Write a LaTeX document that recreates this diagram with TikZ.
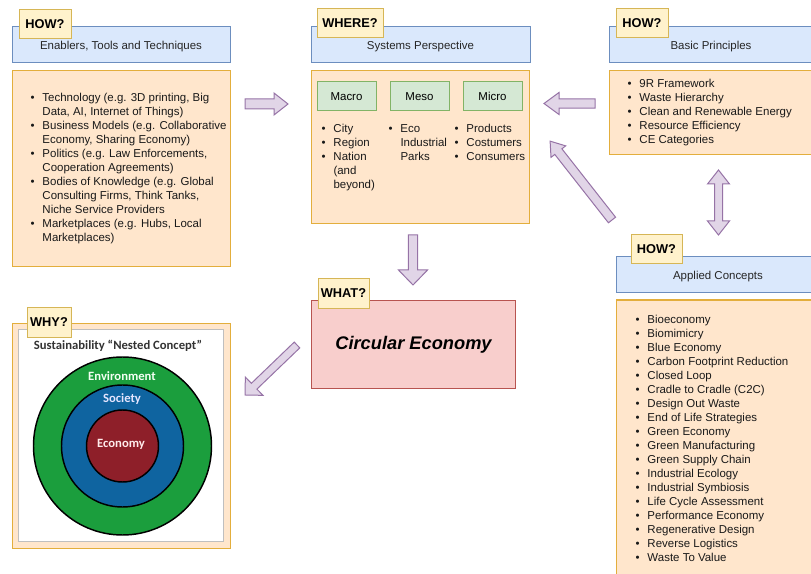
\documentclass[tikz,border=0pt]{standalone}
\usepackage{fontspec}
\setmainfont{Liberation Sans}
\newfontfamily\calib{Carlito}
\usetikzlibrary{calc}
\definecolor{orfill}{HTML}{FFE6CC}
\definecolor{ordraw}{HTML}{E3AE3C}
\definecolor{blfill}{HTML}{DAE8FC}
\definecolor{bldraw}{HTML}{6C8EBF}
\definecolor{tgfill}{HTML}{FFF2CC}
\definecolor{tgdraw}{HTML}{D6B656}
\definecolor{grfill}{HTML}{D5E8D4}
\definecolor{grdraw}{HTML}{82B366}
\definecolor{rdfill}{HTML}{F8CECC}
\definecolor{rddraw}{HTML}{B85450}
\definecolor{pufill}{HTML}{E1D5E7}
\definecolor{pudraw}{HTML}{9673A6}
\definecolor{envg}{HTML}{1B9E3D}
\definecolor{socb}{HTML}{0F64A0}
\definecolor{ecor}{HTML}{8E1F29}
\newlength\bw \setlength\bw{9pt}
\newcommand\bl[1]{\strut\makebox[\bw][l]{\textbullet}#1}
\newcommand\cl[1]{\strut\hspace*{\bw}#1}
\newcommand\blockarrow[5]{%
  \path let \p1=(#1), \p2=(#2), \n1={atan2(\y2-\y1,\x2-\x1)}, \n2={veclen(\x2-\x1,\y2-\y1)} in
    \pgfextra{\xdef\baang{\n1}\xdef\balen{\n2}};
  \begin{scope}[shift={(#1)}, rotate=\baang]
    \draw[parrow] (0pt,{-#3 pt}) -- ({\balen-#5 pt},{-#3 pt}) -- ({\balen-#5 pt},{-#4 pt})
      -- ({\balen},0pt) -- ({\balen-#5 pt},{#4 pt}) -- ({\balen-#5 pt},{#3 pt}) -- (0pt,{#3 pt}) -- cycle;
  \end{scope}}
\begin{document}
\begin{tikzpicture}[x=0.75pt,y=-0.75pt,line width=0.75pt,
  parrow/.style={fill=pufill,draw=pudraw,line join=miter},
  orbox/.style={fill=orfill,draw=ordraw,anchor=north west,inner sep=0pt,outer sep=0pt},
  hdr/.style={fill=blfill,draw=bldraw,anchor=north west,inner sep=0pt,outer sep=0pt,minimum height=27pt},
  hdrtxt/.style={font=\fontsize{8.6pt}{10.5pt}\selectfont,text=black!85,yshift=-1.5pt},
  tag/.style={fill=tgfill,draw=tgdraw,anchor=north west,inner sep=0pt,outer sep=0pt,minimum height=21.75pt,font=\fontsize{9.6pt}{11pt}\selectfont\bfseries},
  lvl/.style={fill=grfill,draw=grdraw,anchor=north west,inner sep=0pt,outer sep=0pt,minimum width=44.25pt,minimum height=21.75pt,font=\fontsize{8.6pt}{10.5pt}\selectfont},
  listtxt/.style={anchor=west,align=left,inner sep=0pt,font=\fontsize{8.6pt}{10.5pt}\selectfont,text=black!90},
  ring/.style={draw=black,line width=1.1pt}]
\useasboundingbox (0,0) rectangle (811,574);

% ---------- block arrows ----------
\coordinate (a1s) at (245,104); \coordinate (a1e) at (288,104);
\coordinate (a2s) at (595,103.5); \coordinate (a2e) at (544,103.5);
\coordinate (a3s) at (612,220); \coordinate (a3e) at (550,141);
\coordinate (a5s) at (413,235); \coordinate (a5e) at (413,285);
\coordinate (a6s) at (297,345); \coordinate (a6e) at (245,395);
\blockarrow{a1s}{a1e}{3.75}{8.25}{10.5}
\blockarrow{a2s}{a2e}{3.5}{8.25}{11.25}
\blockarrow{a3s}{a3e}{3.4}{7}{10}
\blockarrow{a5s}{a5e}{3.4}{10.9}{11.25}
\blockarrow{a6s}{a6e}{3}{9.5}{9.5}
% double arrow
\coordinate (d1) at (718.5,170); \coordinate (d2) at (718.5,235);
\draw[parrow] (d1) -- ++(11,14) -- ++(-7,0) -- ++(0,37) -- ++(7,0) -- (d2) -- ++(-11,-14) -- ++(7,0) -- ++(0,-37) -- ++(-7,0) -- cycle;

% ---------- left: enablers ----------
\node[hdr,minimum width=163.5pt] (hdrL) at (12,27) {};
\node[hdrtxt] at (hdrL.center) {Enablers, Tools and Techniques};
\node[orbox,minimum width=163.5pt,minimum height=147pt] (bodyL) at (12,71) {};
\node[listtxt] (listL) at (30,169) {\bl{Technology (e.g. 3D printing, Big}\\
\cl{Data, AI, Internet of Things)}\\
\bl{Business Models (e.g. Collaborative}\\
\cl{Economy, Sharing Economy)}\\
\bl{Politics (e.g. Law Enforcements,}\\
\cl{Cooperation Agreements)}\\
\bl{Bodies of Knowledge (e.g. Global}\\
\cl{Consulting Firms, Think Tanks,}\\
\cl{Niche Service Providers}\\
\bl{Marketplaces (e.g. Hubs, Local}\\
\cl{Marketplaces)}};
\node[tag,minimum width=39pt] (tagL) at (19,10) {HOW?};

% ---------- middle: systems ----------
\node[hdr,minimum width=164.25pt] (hdrM) at (311,27) {};
\node[hdrtxt] at (hdrM.center) {Systems Perspective};
\node[orbox,minimum width=163.5pt,minimum height=114.75pt] (bodyM) at (311,71) {};
\node[lvl] (macro) at (317,82) {Macro};
\node[lvl] (meso) at (390,82) {Meso};
\node[lvl] (micro) at (463,82) {Micro};
\node[listtxt] (lmac) at (321,158) {\bl{City}\\ \bl{Region}\\ \bl{Nation}\\ \cl{(and}\\ \cl{beyond)}};
\node[listtxt] (lmes) at (388,144) {\bl{Eco}\\ \cl{Industrial}\\ \cl{Parks}};
\node[listtxt] (lmic) at (454,144) {\bl{Products}\\ \bl{Costumers}\\ \bl{Consumers}};
\node[tag,minimum width=49.5pt] (tagM) at (317,9) {WHERE?};

% ---------- right: basic principles ----------
\node[hdr,minimum width=153pt] (hdrR) at (609,27) {};
\node[hdrtxt] at (711,45) {Basic Principles};
\node[orbox,minimum width=153pt,minimum height=63pt] (bodyR) at (609,71) {};
\node[listtxt] (listR) at (627,113) {\bl{9R Framework}\\ \bl{Waste Hierarchy}\\ \bl{Clean and Renewable Energy}\\ \bl{Resource Efficiency}\\ \bl{CE Categories}};
\node[tag,minimum width=39pt] (tagR) at (616,9) {HOW?};

% ---------- applied concepts ----------
\node[hdr,minimum width=153pt] (hdrA) at (616,257) {};
\node[hdrtxt] at (718,275) {Applied Concepts};
\node[orbox,minimum width=153pt,minimum height=215pt] (bodyA) at (616,300) {};
\node[listtxt] (listA) at (635,440) {\bl{Bioeconomy}\\ \bl{Biomimicry}\\ \bl{Blue Economy}\\ \bl{Carbon Footprint Reduction}\\
\bl{Closed Loop}\\ \bl{Cradle to Cradle (C2C)}\\ \bl{Design Out Waste}\\ \bl{End of Life Strategies}\\
\bl{Green Economy}\\ \bl{Green Manufacturing}\\ \bl{Green Supply Chain}\\ \bl{Industrial Ecology}\\
\bl{Industrial Symbiosis}\\ \bl{Life Cycle Assessment}\\ \bl{Performance Economy}\\ \bl{Regenerative Design}\\
\bl{Reverse Logistics}\\ \bl{Waste To Value}};
\node[tag,minimum width=38.25pt] (tagA) at (631,235) {HOW?};

% ---------- circular economy ----------
\node[fill=rdfill,draw=rddraw,anchor=north west,inner sep=0pt,minimum width=153pt,minimum height=66pt,
  font=\fontsize{13.7pt}{16pt}\selectfont\bfseries\itshape] (ce) at (311,300) {Circular Economy};
\node[tag,minimum width=38.25pt] (tagW) at (318,279) {WHAT?};

% ---------- why: sustainability ----------
\node[orbox,minimum width=163.5pt,minimum height=168.75pt] (bodyY) at (12,323) {};
\node[fill=white,draw=black!25,line width=0.5pt,anchor=north west,inner sep=0pt,minimum width=153.75pt,minimum height=159pt] (img) at (18,329) {};
\node[font=\calib\fontsize{9.5pt}{11pt}\selectfont\bfseries,text=black!80] (sust) at (118,346) {Sustainability “Nested Concept”};
\coordinate (cc) at (122.5,446);
\fill[envg,draw=black,line width=1.1pt] (cc) circle (66.75pt);
\fill[socb,draw=black,line width=1.1pt] (cc) circle (45.75pt);
\fill[ecor,draw=black,line width=1.1pt] (cc) circle (27pt);
\node[font=\calib\fontsize{9.5pt}{11pt}\selectfont\bfseries,text=white!95!green] (env) at (122,376) {Environment};
\node[font=\calib\fontsize{9.5pt}{11pt}\selectfont\bfseries,text=white!90!blue] (soc) at (122,399) {Society};
\node[font=\calib\fontsize{9.5pt}{11pt}\selectfont\bfseries,text=white!92!red] (eco) at (121,444) {Economy};
\node[tag,minimum width=33pt,minimum height=22.5pt] (tagY) at (27,307) {WHY?};
\end{tikzpicture}
\end{document}
